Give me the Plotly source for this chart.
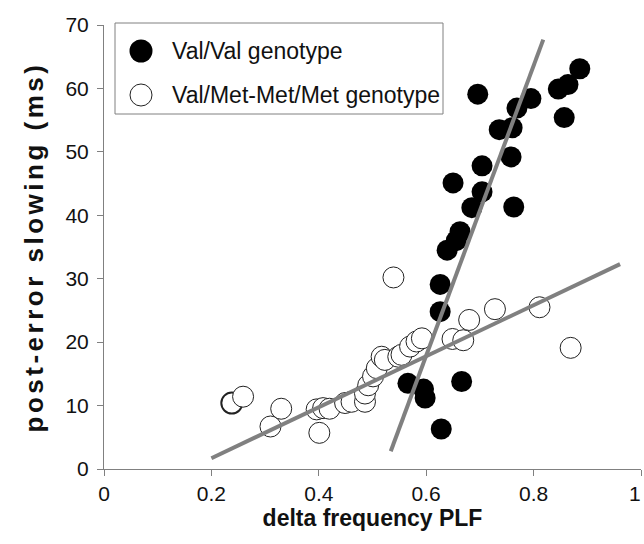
import plotly.graph_objects as go

# ---- data ----
valval_x = [0.886, 0.864, 0.846, 0.696, 0.795, 0.769, 0.857, 0.736, 0.760, 0.758,
            0.704, 0.650, 0.704, 0.685, 0.763, 0.663, 0.656, 0.639, 0.626, 0.626,
            0.566, 0.595, 0.598, 0.666, 0.628]
valval_y = [63.1, 60.6, 59.9, 59.1, 58.4, 56.9, 55.4, 53.5, 53.8, 49.2,
            47.8, 45.1, 43.7, 41.2, 41.3, 37.4, 36.0, 34.5, 29.1, 24.8,
            13.5, 12.6, 11.2, 13.8, 6.3]

met_x = [0.238, 0.259, 0.310, 0.330, 0.401, 0.396, 0.408, 0.420, 0.449, 0.461,
         0.486, 0.486, 0.492, 0.501, 0.508, 0.517, 0.523, 0.548, 0.554, 0.570,
         0.582, 0.592, 0.539, 0.649, 0.669, 0.680, 0.728, 0.811, 0.869]
met_y = [10.4, 11.4, 6.7, 9.5, 5.7, 9.4, 9.6, 9.5, 10.4, 10.6,
         10.6, 11.9, 13.2, 14.6, 15.9, 17.7, 17.2, 17.7, 18.0, 19.3,
         20.1, 20.6, 30.2, 20.5, 20.3, 23.5, 25.2, 25.5, 19.1]

fit_valval_x = [0.534, 0.818]
fit_valval_y = [2.8, 67.7]
fit_met_x = [0.200, 0.961]
fit_met_y = [1.7, 32.3]

x_ticks = [0, 0.2, 0.4, 0.6, 0.8, 1]
x_tick_labels = ["0", "0.2", "0.4", "0.6", "0.8", "1"]
y_ticks = [0, 10, 20, 30, 40, 50, 60, 70]
legend_labels = ["Val/Val genotype", "Val/Met-Met/Met genotype"]

# ---- figure ----
W, H = 644, 544
ML, MR, MT, MB = 104, 3, 25, 75
PW, PH = W - ML - MR, H - MT - MB
FONT = "Liberation Sans, Arial, sans-serif"

def px(xp):
    return (xp - ML) / PW

def py(yp):
    return (H - MB - yp) / PH

# last tick label is drawn as an annotation, right-aligned so it stays inside the page
shown_x_labels = x_tick_labels[:-1] + [""]
met_border = [2 if i == 0 else 1 for i in range(len(met_x))]

fig = go.Figure()
fig.add_trace(go.Scatter(x=met_x, y=met_y, mode="markers", showlegend=False,
                         marker=dict(size=21, color="white",
                                     line=dict(color="#222222", width=met_border))))
fig.add_trace(go.Scatter(x=valval_x, y=valval_y, mode="markers", showlegend=False,
                         marker=dict(size=21, color="black",
                                     line=dict(color="black", width=0))))
fig.add_trace(go.Scatter(x=fit_valval_x, y=fit_valval_y, mode="lines", showlegend=False,
                         line=dict(color="#808080", width=4)))
fig.add_trace(go.Scatter(x=fit_met_x, y=fit_met_y, mode="lines", showlegend=False,
                         line=dict(color="#808080", width=4)))

axis_common = dict(showgrid=False, zeroline=False, showline=True, linecolor="#808080",
                   linewidth=1, ticks="outside", ticklen=6, tickcolor="#808080",
                   automargin=False,
                   tickfont=dict(family=FONT, size=21, color="#111111"))

fig.update_xaxes(range=[0, 1], tickvals=x_ticks, ticktext=shown_x_labels,
                 title=dict(text="<b>delta frequency PLF</b>", standoff=4,
                            font=dict(family=FONT, size=23, color="#111111")),
                 **axis_common)
fig.update_yaxes(range=[0, 70], tickvals=y_ticks,
                 title=dict(text="<span style=\"letter-spacing:3.5px\"><b>post-error slowing (ms)</b></span>",
                            standoff=14,
                            font=dict(family=FONT, size=26, color="#111111")),
                 ticklabelstandoff=4,
                 **axis_common)

# manual legend
shapes = [
    dict(type="rect", xref="paper", yref="paper",
         x0=px(115), x1=px(443), y0=py(114), y1=py(23),
         line=dict(color="#808080", width=1), fillcolor="white", layer="above"),
    dict(type="circle", xref="paper", yref="paper",
         x0=px(129.5), x1=px(152.5), y0=py(62.5), y1=py(39.5),
         line=dict(color="black", width=0), fillcolor="black", layer="above"),
    dict(type="circle", xref="paper", yref="paper",
         x0=px(130), x1=px(152), y0=py(106), y1=py(84),
         line=dict(color="#222222", width=1), fillcolor="white", layer="above"),
]
annotations = [
    dict(text=legend_labels[0], xref="paper", yref="paper", x=px(170), y=py(51),
         xanchor="left", yanchor="middle", showarrow=False,
         font=dict(family=FONT, size=23, color="#111111")),
    dict(text=legend_labels[1], xref="paper", yref="paper", x=px(170), y=py(95),
         xanchor="left", yanchor="middle", showarrow=False,
         font=dict(family=FONT, size=23, color="#111111")),
    dict(text=x_tick_labels[-1], xref="x", yref="paper", x=x_ticks[-1], y=0,
         xanchor="right", yanchor="middle", xshift=2, yshift=-24, showarrow=False,
         font=dict(family=FONT, size=21, color="#111111")),
]

fig.update_layout(width=W, height=H, margin=dict(l=ML, r=MR, t=MT, b=MB, autoexpand=False),
                  plot_bgcolor="white", paper_bgcolor="white",
                  shapes=shapes, annotations=annotations, showlegend=False)

fig.write_html("out.html")
